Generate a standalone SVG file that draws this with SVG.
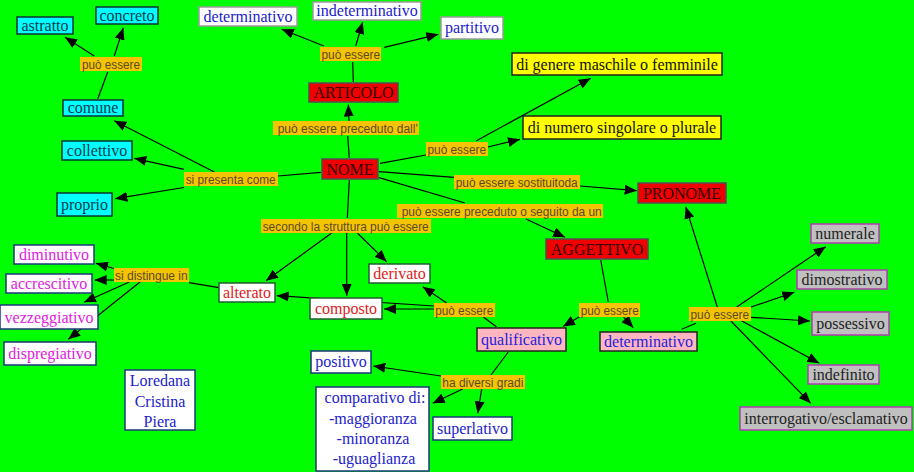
<svg xmlns="http://www.w3.org/2000/svg" width="914" height="472" viewBox="0 0 914 472">
<defs>
<marker id="arr" viewBox="0 0 12 10" refX="12" refY="5" markerWidth="12" markerHeight="10" markerUnits="userSpaceOnUse" orient="auto"><path d="M0,0 L12,5 L0,10 z" fill="#000"/></marker>
<style>
.c line{stroke:#000;stroke-width:1.2}
.c .a{marker-end:url(#arr)}
.lb rect{fill:#f5c400}
.lb text{font-family:"Liberation Sans",Arial,sans-serif;font-size:12px;fill:#5a4a28}
.n text{font-family:"Liberation Serif","Times New Roman",serif;font-size:16px;text-anchor:middle}
.cy rect{fill:#00ffff;stroke:#0a3333;stroke-width:1.5}
.cy text{fill:#003a4a}
.wb rect{fill:#fff;stroke:#9a9a9a;stroke-width:1.5}
.wb text{fill:#1a1acc}
.rd rect{fill:#f00000;stroke:#505050;stroke-width:1.5}
.rd text{fill:#300000}
.ye rect{fill:#ffff00;stroke:#222;stroke-width:1.5}
.ye text{fill:#111}
.wr rect{fill:#fff;stroke:#1f5f2f;stroke-width:1.5}
.wr text{fill:#e02020}
.pk rect{fill:#ffb6c1;stroke:#222;stroke-width:1.5}
.pk text{fill:#2222dd}
.gr rect{fill:#c0c0c0;stroke:#b03cb0;stroke-width:1.5}
.gr text{fill:#222}
.mg rect{fill:#fff;stroke:#1a3a7a;stroke-width:1.5}
.mg text{fill:#e020e0}
.nb rect{fill:#fff;stroke:#1a3a7a;stroke-width:1.5}
.nb text{fill:#2222cc}
</style>
</defs>
<rect x="0" y="0" width="914" height="472" fill="#00ff00"/>

<g id="connectors" class="c">
<line x1="97.7" y1="99" x2="107.7" y2="72"/>
<line x1="321" y1="172.3" x2="278" y2="176"/>
<line x1="349.3" y1="158" x2="347.7" y2="136"/>
<line x1="353.3" y1="82" x2="352.7" y2="62"/>
<line x1="380" y1="163.3" x2="426" y2="155"/>
<line x1="379" y1="171.7" x2="454" y2="177.3"/>
<line x1="379" y1="177.7" x2="465" y2="203"/>
<line x1="349.3" y1="180" x2="347.3" y2="218"/>
<line x1="219" y1="287.7" x2="189" y2="282.7"/>
<line x1="496.7" y1="327" x2="483.3" y2="317"/>
<line x1="600.7" y1="260" x2="608.3" y2="302"/>
<line x1="681.7" y1="329.3" x2="696" y2="323.3"/>
<line x1="508.3" y1="352" x2="491" y2="375"/>

<line class="a" x1="94.3" y1="56" x2="65" y2="37.3"/>
<line class="a" x1="114.3" y1="56" x2="123.3" y2="27.7"/>
<line class="a" x1="214.3" y1="172" x2="114.3" y2="120.7"/>
<line class="a" x1="184" y1="169.3" x2="134.3" y2="158.3"/>
<line class="a" x1="184" y1="187.5" x2="115.3" y2="198.7"/>
<line class="a" x1="349" y1="121" x2="348.3" y2="104.5"/>
<line class="a" x1="324" y1="46" x2="281.7" y2="29.3"/>
<line class="a" x1="355.7" y1="46" x2="362.7" y2="22"/>
<line class="a" x1="384.3" y1="47.3" x2="438.3" y2="34.3"/>
<line class="a" x1="476" y1="141" x2="590.7" y2="78.3"/>
<line class="a" x1="488" y1="147" x2="520" y2="139.3"/>
<line class="a" x1="580" y1="186" x2="636.7" y2="190.7"/>
<line class="a" x1="526" y1="219" x2="565" y2="237.3"/>
<line class="a" x1="357.3" y1="233" x2="386.7" y2="261.7"/>
<line class="a" x1="346.7" y1="233" x2="346.7" y2="295.7"/>
<line class="a" x1="331.7" y1="233" x2="266" y2="280.7"/>
<line class="a" x1="446.7" y1="303" x2="422.7" y2="286.7"/>
<line class="a" x1="434" y1="309" x2="384" y2="309"/>
<line class="a" x1="434" y1="306" x2="276.7" y2="295.7"/>
<line class="a" x1="114" y1="268.5" x2="96" y2="263.3"/>
<line class="a" x1="114" y1="280" x2="94.7" y2="280"/>
<line class="a" x1="129.3" y1="282" x2="84" y2="302.3"/>
<line class="a" x1="140" y1="282" x2="68.3" y2="339.3"/>
<line class="a" x1="580" y1="316.5" x2="563" y2="326.5"/>
<line class="a" x1="622.7" y1="316" x2="633.3" y2="327.7"/>
<line class="a" x1="717.3" y1="307" x2="685.7" y2="206.7"/>
<line class="a" x1="736.7" y1="307" x2="825.7" y2="246.7"/>
<line class="a" x1="751" y1="307" x2="794.3" y2="292.3"/>
<line class="a" x1="751" y1="317.3" x2="810" y2="321"/>
<line class="a" x1="740" y1="320" x2="819.3" y2="363.3"/>
<line class="a" x1="730" y1="320" x2="810.7" y2="403.3"/>
<line class="a" x1="441" y1="376" x2="373.3" y2="366"/>
<line class="a" x1="462.7" y1="389" x2="432.7" y2="403.3"/>
<line class="a" x1="481.7" y1="389" x2="477.7" y2="413.3"/>
</g>

<!-- labels -->
<g id="lbl-comune" class="lb"><rect x="80" y="57" width="62" height="14"/><text x="82" y="68.5" textLength="58" lengthAdjust="spacingAndGlyphs">può essere</text></g>
<g id="lbl-articolo" class="lb"><rect x="320" y="47" width="61" height="14"/><text x="321.5" y="58.5" textLength="58.5" lengthAdjust="spacingAndGlyphs">può essere</text></g>
<g id="lbl-preceduto" class="lb"><rect x="273" y="121" width="146" height="14"/><text x="277.7" y="132.5" textLength="140" lengthAdjust="spacingAndGlyphs">può essere preceduto dall'</text></g>
<g id="lbl-presenta" class="lb"><rect x="184" y="172" width="94" height="14"/><text x="185.7" y="183.5" textLength="90" lengthAdjust="spacingAndGlyphs">si presenta come</text></g>
<g id="lbl-genere" class="lb"><rect x="426" y="142" width="62" height="14"/><text x="427.5" y="153.5" textLength="58.5" lengthAdjust="spacingAndGlyphs">può essere</text></g>
<g id="lbl-sostituito" class="lb"><rect x="454" y="175" width="126" height="14"/><text x="455.7" y="186.5" textLength="122" lengthAdjust="spacingAndGlyphs">può essere sostituitoda</text></g>
<g id="lbl-seguito" class="lb"><rect x="397" y="204" width="206" height="14"/><text x="401.7" y="215.5" textLength="200" lengthAdjust="spacingAndGlyphs">può essere preceduto o seguito da un</text></g>
<g id="lbl-struttura" class="lb"><rect x="261" y="219" width="170" height="14"/><text x="262.7" y="230.5" textLength="166" lengthAdjust="spacingAndGlyphs">secondo la struttura può essere</text></g>
<g id="lbl-distingue" class="lb"><rect x="114" y="268" width="75" height="14"/><text x="115" y="279.5" textLength="72.7" lengthAdjust="spacingAndGlyphs">si distingue in</text></g>
<g id="lbl-qualif" class="lb"><rect x="434" y="303" width="61" height="14"/><text x="435.3" y="314.5" textLength="58" lengthAdjust="spacingAndGlyphs">può essere</text></g>
<g id="lbl-aggettivo" class="lb"><rect x="579" y="303" width="61" height="14"/><text x="580.7" y="314.5" textLength="58" lengthAdjust="spacingAndGlyphs">può essere</text></g>
<g id="lbl-pronome" class="lb"><rect x="689" y="307" width="62" height="14"/><text x="690.5" y="318.5" textLength="58.5" lengthAdjust="spacingAndGlyphs">può essere</text></g>
<g id="lbl-gradi" class="lb"><rect x="441" y="375" width="84" height="14"/><text x="442.3" y="386.5" textLength="81" lengthAdjust="spacingAndGlyphs">ha diversi gradi</text></g>

<!-- nodes -->
<g id="astratto" class="n cy"><rect x="17" y="17" width="56" height="17"/><text x="45" y="31">astratto</text></g>
<g id="concreto" class="n cy"><rect x="96" y="7" width="62" height="17"/><text x="127" y="21">concreto</text></g>
<g id="comune" class="n cy"><rect x="63" y="100" width="60" height="16"/><text x="93" y="113">comune</text></g>
<g id="collettivo" class="n cy"><rect x="62" y="141" width="70" height="19"/><text x="97" y="156">collettivo</text></g>
<g id="proprio" class="n cy"><rect x="57" y="193" width="55" height="23"/><text x="84.5" y="210">proprio</text></g>

<g id="determinativo-art" class="n wb"><rect x="199" y="7" width="98" height="19"/><text x="248" y="22">determinativo</text></g>
<g id="indeterminativo" class="n wb"><rect x="313" y="2" width="108" height="18"/><text x="367" y="16">indeterminativo</text></g>
<g id="partitivo" class="n wb"><rect x="441" y="17" width="62" height="22"/><text x="472" y="33">partitivo</text></g>

<g id="articolo" class="n rd"><rect x="309" y="83" width="89" height="19"/><text x="353.5" y="98">ARTICOLO</text></g>
<g id="nome" class="n rd"><rect x="322" y="159" width="56" height="20"/><text x="350" y="175">NOME</text></g>
<g id="pronome" class="n rd"><rect x="638" y="183" width="88" height="20"/><text x="682" y="199">PRONOME</text></g>
<g id="aggettivo" class="n rd"><rect x="546" y="239" width="102" height="20"/><text x="597" y="255">AGGETTIVO</text></g>

<g id="genere" class="n ye"><rect x="512" y="53" width="210" height="22"/><text x="617" y="69.5">di genere maschile o femminile</text></g>
<g id="numero" class="n ye"><rect x="523" y="116" width="198" height="23"/><text x="622" y="133">di numero singolare o plurale</text></g>

<g id="derivato" class="n wr"><rect x="369" y="264" width="61" height="19"/><text x="399.5" y="279">derivato</text></g>
<g id="alterato" class="n wr"><rect x="219" y="283" width="56" height="19"/><text x="247" y="298">alterato</text></g>
<g id="composto" class="n wr"><rect x="310" y="298" width="72" height="21"/><text x="346" y="314">composto</text></g>

<g id="qualificativo" class="n pk"><rect x="477" y="328" width="89" height="23"/><text x="521.5" y="345">qualificativo</text></g>
<g id="determinativo-agg" class="n pk"><rect x="600" y="332" width="97" height="19"/><text x="648.5" y="347">determinativo</text></g>

<g id="numerale" class="n gr"><rect x="811" y="224" width="68" height="19"/><text x="845" y="239">numerale</text></g>
<g id="dimostrativo" class="n gr"><rect x="797" y="270" width="90" height="19"/><text x="842" y="285">dimostrativo</text></g>
<g id="possessivo" class="n gr"><rect x="812" y="312" width="77" height="23"/><text x="850.5" y="329">possessivo</text></g>
<g id="indefinito" class="n gr"><rect x="808" y="365" width="71" height="19"/><text x="843.5" y="380">indefinito</text></g>
<g id="interrogativo" class="n gr"><rect x="740" y="407" width="172" height="23"/><text x="826" y="424">interrogativo/esclamativo</text></g>

<g id="diminutivo" class="n mg"><rect x="14" y="245" width="80" height="19"/><text x="54" y="260">diminutivo</text></g>
<g id="accrescitivo" class="n mg"><rect x="6" y="274" width="86" height="19"/><text x="49" y="289">accrescitivo</text></g>
<g id="vezzeggiativo" class="n mg"><rect x="0" y="305" width="98" height="24"/><text x="49" y="322.5">vezzeggiativo</text></g>
<g id="dispregiativo" class="n mg"><rect x="4" y="342" width="92" height="23"/><text x="50" y="359">dispregiativo</text></g>

<g id="autori" class="n nb"><rect x="125" y="370" width="70" height="60"/><text x="160" y="386">Loredana</text><text x="160" y="407">Cristina</text><text x="160" y="427">Piera</text></g>
<g id="positivo" class="n nb"><rect x="311" y="351" width="60" height="22"/><text x="341" y="367">positivo</text></g>
<g id="comparativo" class="n nb"><rect x="316" y="387" width="113" height="84"/><text x="375" y="403">comparativo di:</text><text x="373" y="424">-maggioranza</text><text x="373" y="444">-minoranza</text><text x="374" y="464">-uguaglianza</text></g>
<g id="superlativo" class="n nb"><rect x="433" y="417" width="79" height="23"/><text x="472.5" y="434">superlativo</text></g>
</svg>
